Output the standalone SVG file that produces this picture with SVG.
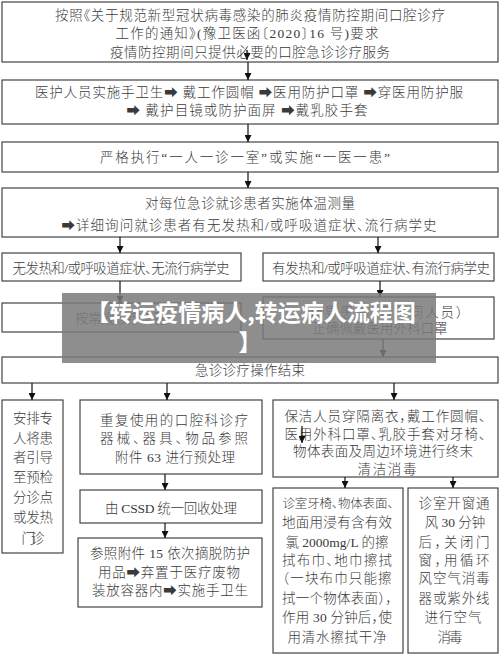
<svg xmlns="http://www.w3.org/2000/svg" width="500" height="658" viewBox="0 0 500 658">
<defs>
<marker id="ah" viewBox="0 0 8 8" refX="8" refY="4" markerWidth="7" markerHeight="7" markerUnits="userSpaceOnUse" orient="auto">
<path d="M0,0 L8,4 L0,8 z" fill="#111"/>
</marker>
<style>
.b{fill:#fff;stroke:#444;stroke-width:1.2}
.t{font-family:"Liberation Serif","Noto Sans CJK SC",serif;font-size:13.5px;font-weight:300;fill:#3a3a3a;text-anchor:middle;font-feature-settings:"halt"}
.s{font-size:12.5px}
.c{stroke:#111;stroke-width:1.2;fill:none;marker-end:url(#ah)}
.w{font-family:"Noto Sans CJK SC","Liberation Sans",sans-serif;font-size:23px;font-weight:bold;fill:#fff;text-anchor:middle}
</style>
</defs>
<rect width="500" height="658" fill="#fff"/>
<g id="n1"><rect class="b" x="2" y="2" width="496" height="60"/>
<text class="t" x="250" y="20" textLength="390" lengthAdjust="spacing">按照《关于规范新型冠状病毒感染的肺炎疫情防控期间口腔诊疗</text>
<text class="t" x="247" y="38" textLength="263" lengthAdjust="spacing">工作的通知》(豫卫医函〔2020〕16 号)要求</text>
<text class="t" x="250" y="57" textLength="280" lengthAdjust="spacing">疫情防控期间只提供必要的口腔急诊诊疗服务</text></g>
<g id="n2"><rect class="b" x="2" y="80" width="496" height="44"/>
<text class="t" x="249" y="97" textLength="428" lengthAdjust="spacing">医护人员实施手卫生➡ 戴工作圆帽 ➡医用防护口罩 ➡穿医用防护服</text>
<text class="t" x="247" y="115" textLength="241" lengthAdjust="spacing">➡ 戴护目镜或防护面屏 ➡戴乳胶手套</text></g>
<g id="n3"><rect class="b" x="2" y="142" width="496" height="30"/>
<text class="t" x="245" y="162" textLength="290" lengthAdjust="spacing">严格执行“一人一诊一室”或实施“一医一患”</text></g>
<g id="n4"><rect class="b" x="2" y="188" width="496" height="49"/>
<text class="t" x="250" y="208" textLength="210" lengthAdjust="spacing">对每位急诊就诊患者实施体温测量</text>
<text class="t" x="249" y="230" textLength="375" lengthAdjust="spacing">➡详细询问就诊患者有无发热和/或呼吸道症状、流行病学史</text></g>
<g id="n5l"><rect class="b" x="2" y="253" width="239" height="28"/>
<text class="t" x="121" y="273" textLength="217" lengthAdjust="spacing">无发热和/或呼吸道症状、无流行病学史</text></g>
<g id="n5r"><rect class="b" x="263" y="253" width="231" height="28"/>
<text class="t" x="381" y="273" textLength="218" lengthAdjust="spacing">有发热和/或呼吸道症状、有流行病学史</text></g>
<g id="n6l"><rect class="b" x="2" y="303" width="239" height="29"/>
<text class="t" x="121" y="323" textLength="92" lengthAdjust="spacing">按常规诊疗流程</text></g>
<g id="n6r"><rect class="b" x="263" y="297" width="231" height="42"/>
<text class="t" x="386" y="317" textLength="153" lengthAdjust="spacing">指导患者（及陪同人员）</text>
<text class="t" x="380" y="333" textLength="135" lengthAdjust="spacing">正确佩戴医用外科口罩</text></g>
<g id="n7"><rect class="b" x="2" y="357" width="496" height="26"/>
<text class="t" x="250" y="375" textLength="110" lengthAdjust="spacing">急诊诊疗操作结束</text></g>
<g id="n8a"><rect class="b" x="2" y="400" width="61" height="153"/>
<text class="t" x="33" y="423" textLength="40" lengthAdjust="spacing">安排专</text>
<text class="t" x="33" y="443" textLength="40" lengthAdjust="spacing">人将患</text>
<text class="t" x="33" y="462" textLength="40" lengthAdjust="spacing">者引导</text>
<text class="t" x="33" y="482" textLength="40" lengthAdjust="spacing">至预检</text>
<text class="t" x="33" y="502" textLength="40" lengthAdjust="spacing">分诊点</text>
<text class="t" x="33" y="522" textLength="40" lengthAdjust="spacing">或发热</text>
<text class="t" x="33" y="543" textLength="23" lengthAdjust="spacing">门诊</text></g>
<g id="n8b"><rect class="b" x="80" y="400" width="182" height="74"/>
<text class="t" x="174" y="425" textLength="148" lengthAdjust="spacing">重复使用的口腔科诊疗</text>
<text class="t" x="174" y="443" textLength="148" lengthAdjust="spacing">器械、器具、物品参照</text>
<text class="t" x="175" y="462" textLength="120" lengthAdjust="spacing">附件 63 进行预处理</text></g>
<g id="n9"><rect class="b" x="80" y="490" width="182" height="33"/>
<text class="t" x="171" y="513" textLength="132" lengthAdjust="spacing">由 CSSD 统一回收处理</text></g>
<g id="n10"><rect class="b" x="78" y="538" width="184" height="69"/>
<text class="t" x="170" y="558" textLength="160" lengthAdjust="spacing">参照附件 15 依次摘脱防护</text>
<text class="t" x="169" y="577" textLength="142" lengthAdjust="spacing">用品➡弃置于医疗废物</text>
<text class="t" x="170" y="595" textLength="156" lengthAdjust="spacing">装放容器内➡实施手卫生</text></g>
<g id="n8c"><rect class="b" x="273" y="400" width="225" height="77"/>
<text class="t" x="385" y="421" textLength="201" lengthAdjust="spacing">保洁人员穿隔离衣，戴工作圆帽、</text>
<text class="t" x="385" y="439" textLength="201" lengthAdjust="spacing">医用外科口罩、乳胶手套对牙椅、</text>
<text class="t" x="383" y="456" textLength="180" lengthAdjust="spacing">物体表面及周边环境进行终末</text>
<text class="t" x="387" y="474" textLength="59" lengthAdjust="spacing">清洁消毒</text></g>
<g id="n11a"><rect class="b" x="273" y="488" width="130" height="165"/>
<text class="t s" x="338" y="508" textLength="111" lengthAdjust="spacing">诊室牙椅、物体表面、</text>
<text class="t" x="337" y="527" textLength="110" lengthAdjust="spacing">地面用浸有含有效</text>
<text class="t" x="337" y="547" textLength="103" lengthAdjust="spacing">氯 2000mg/L 的擦</text>
<text class="t" x="337" y="565" textLength="110" lengthAdjust="spacing">拭布巾、地巾擦拭</text>
<text class="t" x="337" y="583" textLength="109" lengthAdjust="spacing">（一块布巾只能擦</text>
<text class="t" x="337" y="603" textLength="110" lengthAdjust="spacing">拭一个物体表面），</text>
<text class="t" x="337" y="622" textLength="110" lengthAdjust="spacing">作用 30 分钟后，使</text>
<text class="t" x="337" y="642" textLength="99" lengthAdjust="spacing">用清水擦拭干净</text></g>
<g id="n11b"><rect class="b" x="408" y="488" width="90" height="165"/>
<text class="t" x="454" y="508" textLength="71" lengthAdjust="spacing">诊室开窗通</text>
<text class="t" x="455" y="527">风 30 分钟</text>
<text class="t" x="454" y="547" textLength="71" lengthAdjust="spacing">后，关闭门</text>
<text class="t" x="454" y="565" textLength="71" lengthAdjust="spacing">窗，用循环</text>
<text class="t" x="454" y="583" textLength="71" lengthAdjust="spacing">风空气消毒</text>
<text class="t" x="454" y="603" textLength="71" lengthAdjust="spacing">器或紫外线</text>
<text class="t" x="453" y="622" textLength="57" lengthAdjust="spacing">进行空气</text>
<text class="t" x="450" y="642" textLength="25" lengthAdjust="spacing">消毒</text></g>
<g id="connectors">
<path class="c" d="M247,50 V60"/>
<path class="c" d="M248,62 V80"/>
<path class="c" d="M248,124 V142"/>
<path class="c" d="M248,172 V188"/>
<path class="c" d="M120,237 V253"/>
<path class="c" d="M378,237 V253"/>
<path class="c" d="M120,281 V303"/>
<path class="c" d="M380,281 V297"/>
<path class="c" d="M383,339 V357"/>
<path class="c" d="M32,383 V400"/>
<path class="c" d="M167,383 V400"/>
<path class="c" d="M394,383 V400"/>
<path class="c" d="M165,474 V490"/>
<path class="c" d="M165,523 V538"/>
<path class="c" d="M345,477 V488"/>
<path class="c" d="M453,477 V488"/>
<path class="c" d="M302,426 V443"/>
</g>
<g id="banner">
<rect x="62" y="293" width="374" height="70" fill="#7a7a7a" fill-opacity="0.85"/>
<text class="w" x="251" y="321">【转运疫情病人,转运病人流程图</text>
<text class="w" x="250" y="351">】</text>
</g>
</svg>
